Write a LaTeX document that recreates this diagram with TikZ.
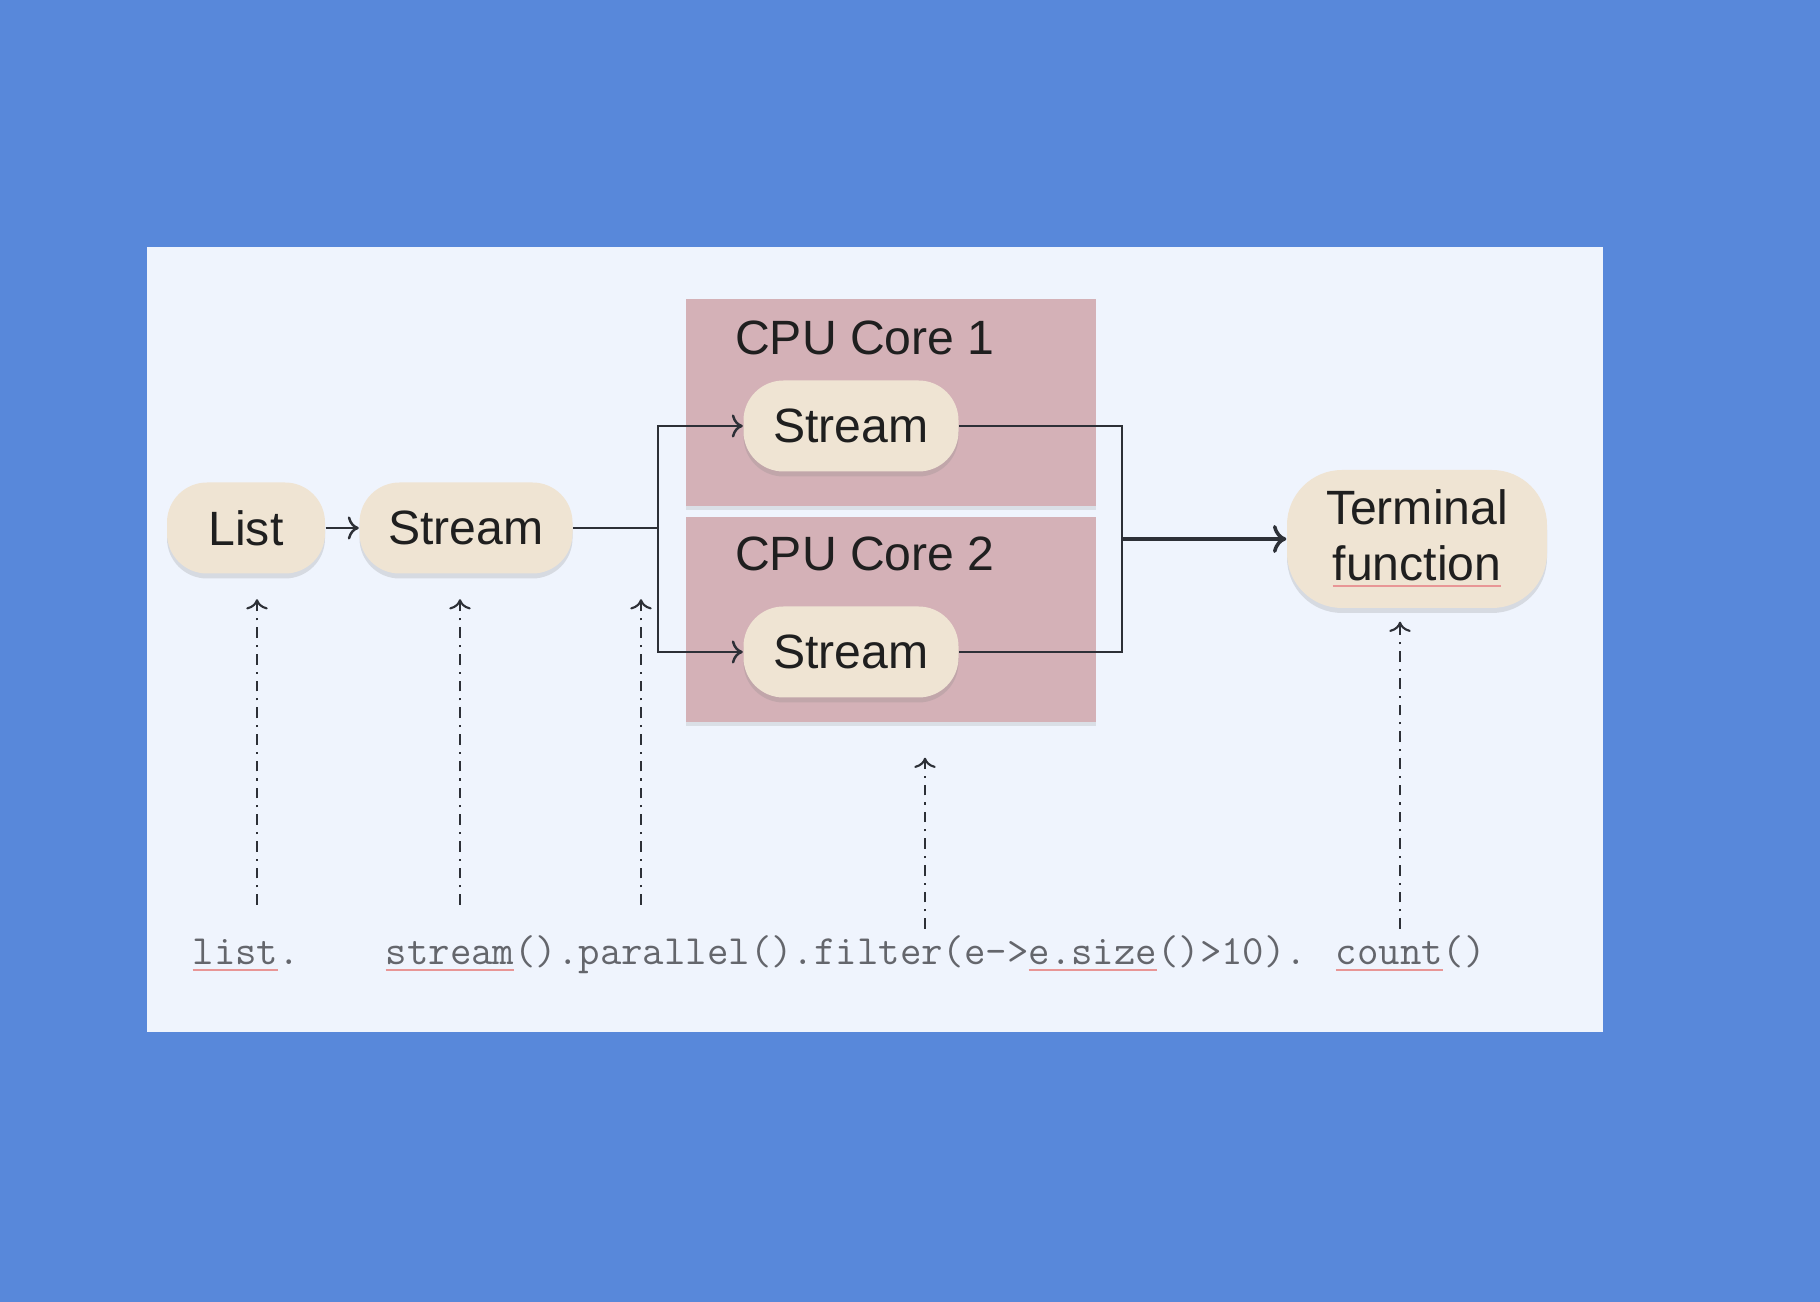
\documentclass[tikz,border=0pt]{standalone}
\usepackage{fontspec}
\setmainfont{Liberation Sans}
\usetikzlibrary{shadows,arrows.meta}
\definecolor{slideblue}{RGB}{88,136,218}
\definecolor{panelwhite}{RGB}{239,244,253}
\definecolor{corepink}{RGB}{212,177,183}
\definecolor{streambeige}{RGB}{239,228,211}
\definecolor{linegray}{RGB}{45,48,55}
\definecolor{codegray}{RGB}{100,102,108}
\definecolor{typored}{RGB}{232,150,150}
\newcommand\typo[1]{\rlap{\color{typored}\underline{\phantom{#1}}}#1}
\tikzset{
  opbox/.style={fill=streambeige, rounded corners=4mm, minimum height=9.1mm, inner sep=0pt,
    font=\fontsize{13.7}{16}\selectfont, text=black!88,
    drop shadow={shadow xshift=0pt, shadow yshift=-0.5mm, opacity=0.22, fill=black!50}},
  corebox/.style={fill=corepink, minimum width=41mm, inner sep=0pt,
    drop shadow={shadow xshift=0pt, shadow yshift=-0.4mm, opacity=0.18, fill=black!50}},
  corelabel/.style={font=\fontsize{13.7}{16}\selectfont, text=black!88, inner sep=0pt},
  code/.style={font=\fontsize{11.84}{13}\selectfont\ttfamily, text=codegray, inner sep=0pt},
  flow/.style={draw=linegray, line width=0.7pt},
  hint/.style={draw=linegray, line width=0.6pt, dash pattern=on 3pt off 2pt on 0.6pt off 2pt, ->}
}
\begin{document}
\begin{tikzpicture}[x=0.1mm, y=-0.1mm]
  \fill[slideblue] (0,0) rectangle (1820,1302);
  \fill[panelwhite] (147,247) rectangle (1603,1032);
  % the two cores
  \node[corebox, minimum height=20.7mm] (core1) at (891,402.5) {};
  \node[corebox, minimum height=20.5mm] (core2) at (891,619.5) {};
  \node[corelabel] (core1 label) at (865,338) {CPU Core 1};
  \node[corelabel] (core2 label) at (865,554) {CPU Core 2};
  % stream nodes
  \node[opbox, minimum width=15.8mm] (list) at (246,528) {List};
  \node[opbox, minimum width=21.3mm] (stream) at (466,528) {Stream};
  \node[opbox, minimum width=21.5mm] (stream1) at (851,426) {Stream};
  \node[opbox, minimum width=21.5mm] (stream2) at (851,652) {Stream};
  \node[opbox, minimum width=26mm, minimum height=13.8mm, rounded corners=5.5mm, align=center] (terminal) at (1417,539) {Terminal\\\typo{function}};
  \coordinate (split) at (658,528);
  \coordinate (merge) at (1122,539);
  \draw[flow,->] (list) -- (stream);
  \draw[flow] (stream) -- (split);
  \draw[flow,->] (split) |- (stream1);
  \draw[flow,->] (split) |- (stream2);
  \draw[flow] (stream1) -| (merge);
  \draw[flow] (stream2) -| (merge);
  \draw[flow,->,line width=1pt] (merge) -- (terminal);
  % the code line
  \node[code, anchor=base west] (code list) at (192,965) {\typo{list}.};
  \node[code, anchor=base west] (code chain) at (385,965) {\typo{stream}().parallel().filter(e->\typo{e.size}()>10). \typo{count}()};
  \coordinate (h1) at (257,905);
  \coordinate (h2) at (460,905);
  \coordinate (h3) at (641,905);
  \coordinate (h4) at (925,929);
  \coordinate (h5) at (1400,929);
  \draw[hint, shorten >=2.5mm] (h1) -- (h1 |- list.south);
  \draw[hint, shorten >=2.5mm] (h2) -- (h2 |- stream.south);
  \draw[hint, shorten >=2.5mm] (h3) -- (h3 |- stream.south);
  \draw[hint, shorten >=3.5mm] (h4) -- (h4 |- core2.south);
  \draw[hint, shorten >=1.3mm] (h5) -- (h5 |- terminal.south);
\end{tikzpicture}
\end{document}
